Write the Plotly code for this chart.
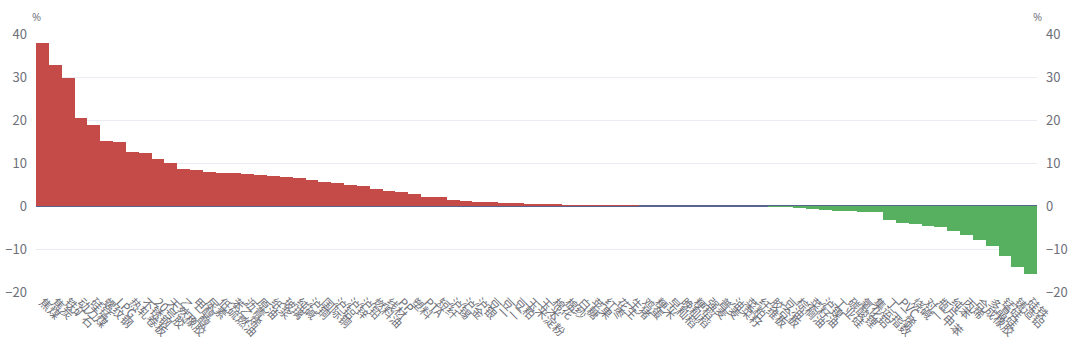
import plotly.graph_objects as go

categories = [
    "焦煤", "焦炭", "铁矿石", "动力煤", "硅锰", "螺纹钢", "LPG", "热轧卷板", "不锈钢", "20号胶",
    "天然橡胶", "乙二醇", "甲醇", "尿素", "低硫燃油", "苯乙烯", "沥青", "原油", "纸浆", "玻璃",
    "纯碱", "沪铜", "国际铜", "沪铝", "沪锌", "沪铅", "燃料油", "线材", "PP", "塑料",
    "PTA", "短纤", "沪锡", "沪金", "沪银", "豆一", "豆二", "豆粕", "玉米淀粉", "玉米",
    "棉花", "棉纱", "白糖", "苹果", "红枣", "花生", "生猪", "鸡蛋", "粳米", "早籼稻",
    "晚籼稻", "粳稻", "强麦", "普麦", "油菜籽", "菜粕", "纤维板", "胶合板", "豆油", "棕榈油",
    "菜籽油", "沪镍", "工业硅", "碳酸锂", "氧化铝", "集运指数", "丁二烯", "PVC", "烧碱", "对二甲苯",
    "瓶片", "纯苯", "丙烯", "合成橡胶", "多晶硅", "锰硅", "铸造铝", "硅铁",
]

values = [
    37.8, 32.9, 29.8, 20.5, 18.8, 15.1, 14.8, 12.6, 12.4, 10.9,
    10.1, 8.5, 8.4, 7.8, 7.7, 7.6, 7.4, 7.3, 7.0, 6.7,
    6.5, 6.1, 5.5, 5.3, 4.8, 4.7, 3.9, 3.6, 3.2, 2.7,
    2.2, 2.1, 1.3, 1.1, 1.0, 0.9, 0.8, 0.7, 0.5, 0.4,
    0.4, 0.2, 0.1, 0.1, 0.05, 0.05, 0.02, 0.0, 0.0, 0.0,
    0.0, 0.0, 0.0, 0.0, 0.0, 0.0, 0.0, -0.05, -0.15, -0.3,
    -0.7, -0.9, -1.1, -1.2, -1.4, -1.5, -3.3, -4.0, -4.1, -4.6,
    -4.8, -5.8, -6.8, -8.0, -9.2, -11.6, -14.1, -15.8,
]

y_ticks = [-20, -10, 0, 10, 20, 30, 40]

RED = "#c44b48"
GREEN = "#57b060"
colors = [RED if v >= 0 else GREEN for v in values]

fig = go.Figure()
fig.add_trace(go.Bar(x=categories, y=values, marker=dict(color=colors, line=dict(width=0)),
                     hoverinfo="x+y", showlegend=False))
fig.add_trace(go.Scatter(x=categories, y=values, yaxis="y2", mode="lines",
                         line=dict(width=0, color="rgba(0,0,0,0)"), hoverinfo="skip",
                         showlegend=False))

axis_font = dict(family="Noto Sans CJK SC, Noto Sans, sans-serif", size=13, color="#6e7079")

fig.update_layout(
    width=1080, height=343,
    margin=dict(l=36, r=43, t=34, b=51, autoexpand=False),
    paper_bgcolor="white", plot_bgcolor="white",
    bargap=0,
    xaxis=dict(
        type="category", tickmode="array", tickvals=categories, ticktext=categories,
        tickangle=45, tickfont=dict(family="Noto Sans CJK SC, sans-serif", size=12, color="#6e7079"),
        showgrid=False, showline=False, ticks="", zeroline=False, automargin=False,
        range=[-0.5, len(categories) - 0.5],
    ),
    yaxis=dict(
        range=[-20, 40], tickvals=y_ticks, tickfont=axis_font, showgrid=True,
        gridcolor="#e9ecf2", gridwidth=1, zeroline=True, zerolinecolor="#56648f",
        zerolinewidth=2, showline=False, ticks="", ticklabelstandoff=8, automargin=False,
    ),
    yaxis2=dict(
        range=[-20, 40], tickvals=y_ticks, tickfont=axis_font, overlaying="y",
        side="right", showgrid=False, zeroline=False, showline=False, ticks="",
        ticklabelstandoff=8, automargin=False,
    ),
    annotations=[
        dict(text="%", x=0, y=1, xref="paper", yref="paper", xanchor="center", yanchor="bottom",
             yshift=8, showarrow=False, font=dict(size=11, color="#6e7079")),
        dict(text="%", x=1, y=1, xref="paper", yref="paper", xanchor="center", yanchor="bottom",
             yshift=8, showarrow=False, font=dict(size=11, color="#6e7079")),
    ],
)

fig.write_html("out.html")
